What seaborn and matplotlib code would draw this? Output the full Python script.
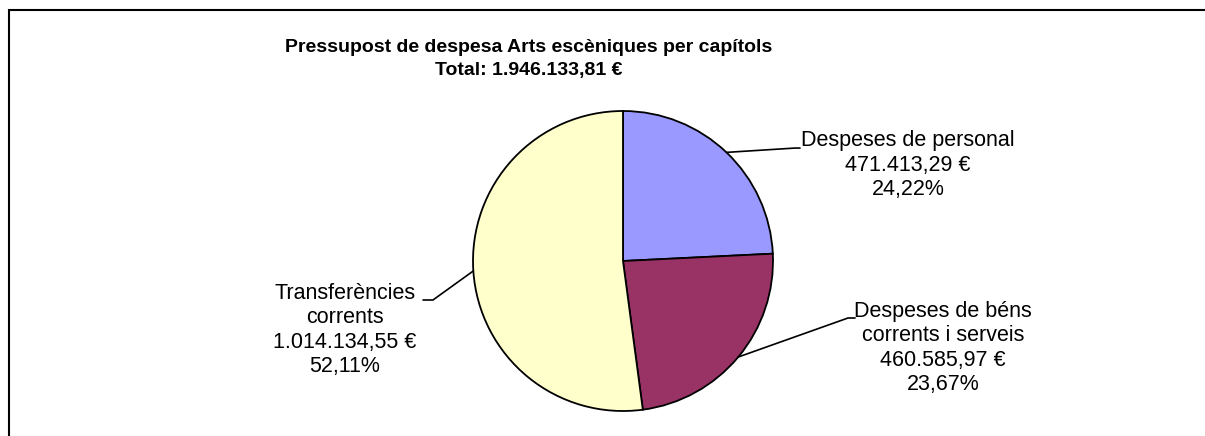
import matplotlib
matplotlib.use("Agg")
import matplotlib.pyplot as plt
import matplotlib.patches as patches
import numpy as np
import seaborn as sns

sns.set_style("white")
plt.rcParams["font.family"] = ["Liberation Sans", "DejaVu Sans"]
plt.rcParams["text.color"] = "black"

# data
categories = [
    "Despeses de personal",
    "Despeses de béns\ncorrents i serveis",
    "Transferències\ncorrents",
]
amounts = [471413.29, 460585.97, 1014134.55]
colors = ["#9999FF", "#993366", "#FFFFCC"]
title = "Pressupost de despesa Arts escèniques per capítols"


def fmt_ca(v):
    # catalan number format: 1.234,56
    s = f"{v:,.2f}"
    return s.replace(",", "X").replace(".", ",").replace("X", ".")


total = sum(amounts)

fig = plt.figure(figsize=(12.05, 4.36), dpi=100)
fig.patch.set_facecolor("white")

# outer chart border (runs off the right/bottom edges)
fig.add_artist(
    patches.Rectangle(
        (9 / 1205, -0.05), 1.1, 1 - 10 / 436 + 0.05,
        transform=fig.transFigure, fill=False, edgecolor="black", linewidth=1.5,
    )
)

fig.text(
    529 / 1205, 1 - 59 / 436,
    f"{title}\nTotal: {fmt_ca(total)} €",
    ha="center", va="center", fontsize=14, fontweight="bold", linespacing=1.5,
)

ax = fig.add_axes([473 / 1205, 25 / 436, 300 / 1205, 300 / 436])
wedges, _ = ax.pie(
    amounts,
    colors=colors,
    startangle=90,
    counterclock=False,
    wedgeprops=dict(edgecolor="black", linewidth=1.3),
)
ax.set_xlim(-1, 1)
ax.set_ylim(-1, 1)
ax.axis("off")

# label layout: (elbow x, elbow y, end x, text center x, text center y)
layout = [
    (1.147, 0.753, 1.18, 1.90, 0.64),
    (1.50, -0.38, 1.547, 2.133, -0.58),
    (-1.267, -0.26, -1.333, -1.853, -0.46),
]

for w, cat, amt, (ex, ey, hx, tx, ty) in zip(wedges, categories, amounts, layout):
    mid = np.deg2rad((w.theta1 + w.theta2) / 2)
    px, py = np.cos(mid), np.sin(mid)
    ax.plot([px, ex, hx], [py, ey, ey], color="black", linewidth=1.2,
            clip_on=False, solid_joinstyle="miter")
    pct = fmt_ca(amt / total * 100) + "%"
    ax.text(tx, ty, f"{cat}\n{fmt_ca(amt)} €\n{pct}",
            ha="center", va="center", fontsize=15.5, linespacing=1.2,
            clip_on=False)

fig.savefig("out.png", dpi=100)
